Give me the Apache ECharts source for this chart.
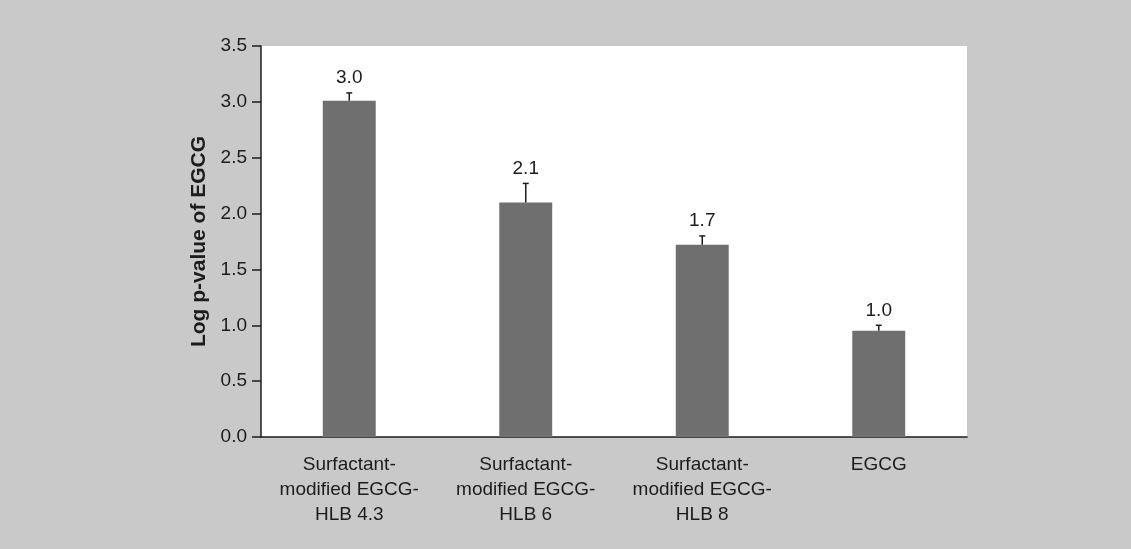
<!DOCTYPE html>
<html>
<head>
<meta charset="utf-8">
<script src="https://cdn.jsdelivr.net/npm/echarts@6/dist/echarts.min.js"></script>
<style>
html,body{margin:0;padding:0;background:#c9c9c9;}
#c{width:1131px;height:549px;}
</style>
</head>
<body>
<div id="c"></div>
<script>
var categories = ['Surfactant-\nmodified EGCG-\nHLB 4.3', 'Surfactant-\nmodified EGCG-\nHLB 6', 'Surfactant-\nmodified EGCG-\nHLB 8', 'EGCG'];
var values = [3.01, 2.10, 1.72, 0.95];
var errors = [0.07, 0.17, 0.08, 0.05];
var valueLabels = ['3.0', '2.1', '1.7', '1.0'];
var yTicks = [0, 0.5, 1.0, 1.5, 2.0, 2.5, 3.0, 3.5];

var chart = echarts.init(document.getElementById('c'));
var font = 'Liberation Sans, Arial, Helvetica, sans-serif';
var ink = '#1c1c1c';
chart.setOption({
  backgroundColor: '#c9c9c9',
  animation: false,
  grid: {left: 261, right: 164, top: 46, bottom: 112, show: true, backgroundColor: '#ffffff', borderWidth: 0},
  xAxis: {
    type: 'category',
    data: categories,
    axisLine: {lineStyle: {color: ink, width: 1.5}},
    axisTick: {alignWithLabel: true, length: 10, lineStyle: {color: ink, width: 1.5}},
    axisLabel: {color: ink, fontSize: 19, fontFamily: font, lineHeight: 25, margin: 15, interval: 0}
  },
  yAxis: {
    type: 'value',
    min: 0, max: 3.5, interval: 0.5,
    name: 'Log p-value of EGCG',
    nameLocation: 'middle',
    nameGap: 51,
    nameTextStyle: {color: ink, fontSize: 21, fontWeight: 'bold', fontFamily: font},
    axisLine: {show: true, lineStyle: {color: ink, width: 1.5}},
    axisTick: {show: true, length: 9, lineStyle: {color: ink, width: 1.5}},
    axisLabel: {color: ink, fontSize: 19, fontFamily: font, margin: 14,
      formatter: function (v) { return yTicks.indexOf(v) >= 0 ? v.toFixed(1) : ''; }},
    splitLine: {show: false}
  },
  series: [
    {
      type: 'bar',
      data: values,
      barWidth: '30%',
      itemStyle: {color: '#6f6f6f'}
    },
    {
      type: 'custom',
      data: values.map(function (v, i) { return [i, v, v + errors[i]]; }),
      renderItem: function (params, api) {
        var i = api.value(0);
        var base = api.coord([i, api.value(1)]);
        var top = api.coord([i, api.value(2)]);
        return {
          type: 'group',
          children: [
            {type: 'line', shape: {x1: base[0], y1: base[1], x2: top[0], y2: top[1]}, style: {stroke: ink, lineWidth: 1.5}},
            {type: 'line', shape: {x1: top[0] - 3, y1: top[1], x2: top[0] + 3, y2: top[1]}, style: {stroke: ink, lineWidth: 1.5}},
            {type: 'text', style: {text: valueLabels[params.dataIndex], x: top[0], y: top[1] - 15, align: 'center', verticalAlign: 'middle', fill: ink, fontSize: 19, fontFamily: font}}
          ]
        };
      },
      z: 5
    }
  ]
});
</script>
</body>
</html>
